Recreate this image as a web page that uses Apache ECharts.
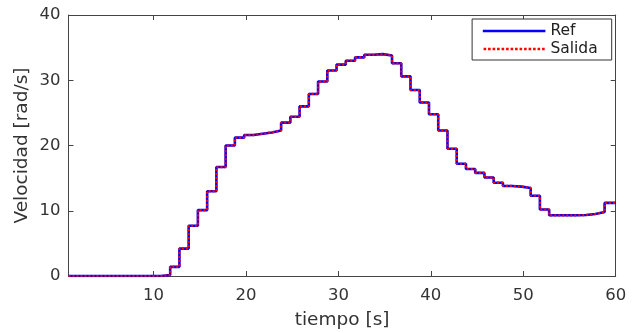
<!DOCTYPE html>
<html>
<head>
<meta charset="utf-8">
<script src="https://cdn.jsdelivr.net/npm/echarts@6/dist/echarts.min.js"></script>
<style>html,body{margin:0;padding:0;background:#fff;}#c{width:633px;height:332px;}</style>
</head>
<body>
<div id="c"></div>
<script>
const tiempo = [0.8,1.8,2.8,3.8,4.8,5.8,6.8,7.8,8.8,9.8,
  10.8,11.8,12.8,13.8,14.8,15.8,16.8,17.8,18.8,19.8,
  20.8,21.8,22.8,23.8,24.8,25.8,26.8,27.8,28.8,29.8,
  30.8,31.8,32.8,33.8,34.8,35.8,36.8,37.8,38.8,39.8,
  40.8,41.8,42.8,43.8,44.8,45.8,46.8,47.8,48.8,49.8,
  50.8,51.8,52.8,53.8,54.8,55.8,56.8,57.8,58.8,60];
const ref = [0,0,0,0,0,0,0,0,0,0,
  0.15,1.4,4.2,7.7,10.1,13.0,16.7,20.0,21.2,21.6,
  21.8,22.0,22.3,23.5,24.4,26.0,27.9,29.8,31.5,32.4,
  33.0,33.5,33.9,34.0,33.8,32.6,30.6,28.5,26.6,24.8,
  22.3,19.5,17.2,16.4,15.8,15.1,14.3,13.8,13.7,13.5,
  12.3,10.2,9.3,9.3,9.3,9.35,9.5,9.8,11.2,11.2];
const salida = [0,0,0,0,0,0,0,0,0,0,
  0.15,1.4,4.2,7.7,10.1,13.0,16.7,20.0,21.2,21.6,
  21.8,22.0,22.3,23.5,24.4,26.0,27.9,29.8,31.5,32.4,
  33.0,33.5,33.9,34.0,33.8,32.6,30.6,28.5,26.6,24.8,
  22.3,19.5,17.2,16.4,15.8,15.1,14.3,13.8,13.7,13.5,
  12.3,10.2,9.3,9.3,9.3,9.35,9.5,9.8,11.2,11.2];
const xTicks = [10,20,30,40,50,60];
const yTicks = [0,10,20,30,40];
const xLabel = 'tiempo [s]';
const yLabel = 'Velocidad [rad/s]';
const names = ['Ref','Salida'];

const chart = echarts.init(document.getElementById('c'), null, {renderer:'canvas'});
const axisColor = '#444';
const font = 'DejaVu Sans';
const pair = (ts, vs) => ts.map((t,i)=>[t, vs[i]]);
// dotted legend icon: small squares
let dotPath = 'path://';
for (let k = 0; k < 14; k++) { const x0 = k*4.5; dotPath += 'M'+x0+',0h2.6v2.6h-2.6z '; }
const xCommon = {
  type:'value', min:0.8, max:60,
  axisLine:{show:true, onZero:false, lineStyle:{color:axisColor, width:1}},
  axisTick:{show:true, inside:true, length:5, lineStyle:{color:axisColor},
    customValues: xTicks},
  splitLine:{show:false}
};
const yCommon = {
  type:'value', min:0, max:40, interval:10,
  axisLine:{show:true, onZero:false, lineStyle:{color:axisColor, width:1}},
  axisTick:{show:true, inside:true, length:5, lineStyle:{color:axisColor}},
  splitLine:{show:false}
};
chart.setOption({
  animation:false,
  grid:{left:68.5, right:17.3, top:15, bottom:56, containLabel:false, outerBoundsMode:'none'},
  legend:{
    right:21.3, top:19, orient:'vertical', itemGap:0,
    itemWidth:62.6, itemHeight:2.6,
    padding:[3,14,2,10.7],
    borderColor:'#333', borderWidth:1, backgroundColor:'#fff',
    textStyle:{fontFamily:font, fontSize:15.5, color:'#222', lineHeight:18},
    data:[
      {name:names[0], icon:'rect', itemStyle:{color:'#0000ff'}},
      {name:names[1], icon:dotPath, itemStyle:{color:'#ff0000'}}
    ]
  },
  xAxis:[
    Object.assign({}, xCommon, {position:'bottom',
      name:xLabel, nameLocation:'middle', nameGap:35, nameMoveOverlap:false,
      nameTextStyle:{fontFamily:font, fontSize:18.5, color:'#333'},
      axisLabel:{show:true, color:'#333', fontFamily:font, fontSize:16.5, margin:11,
        customValues: xTicks}}),
    Object.assign({}, xCommon, {position:'top', axisLabel:{show:false}})
  ],
  yAxis:[
    Object.assign({}, yCommon, {position:'left',
      name:yLabel, nameLocation:'middle', nameGap:36.5, nameMoveOverlap:false,
      nameTextStyle:{fontFamily:font, fontSize:18.5, color:'#333'},
      axisLabel:{show:true, color:'#333', fontFamily:font, fontSize:16.5, margin:8}}),
    Object.assign({}, yCommon, {position:'right', axisLabel:{show:false}})
  ],
  series:[
    {name:names[0], type:'line', step:'end', data:pair(tiempo, ref),
     showSymbol:false, symbol:'none',
     lineStyle:{color:'#0000ff', width:2.6}, itemStyle:{color:'#0000ff'}},
    {name:names[1], type:'line', step:'end', data:pair(tiempo, salida),
     showSymbol:false, symbol:'none',
     lineStyle:{color:'#ff0000', width:2.2, type:[2,2]}, itemStyle:{color:'#ff0000'}}
  ]
});
</script>
</body>
</html>
